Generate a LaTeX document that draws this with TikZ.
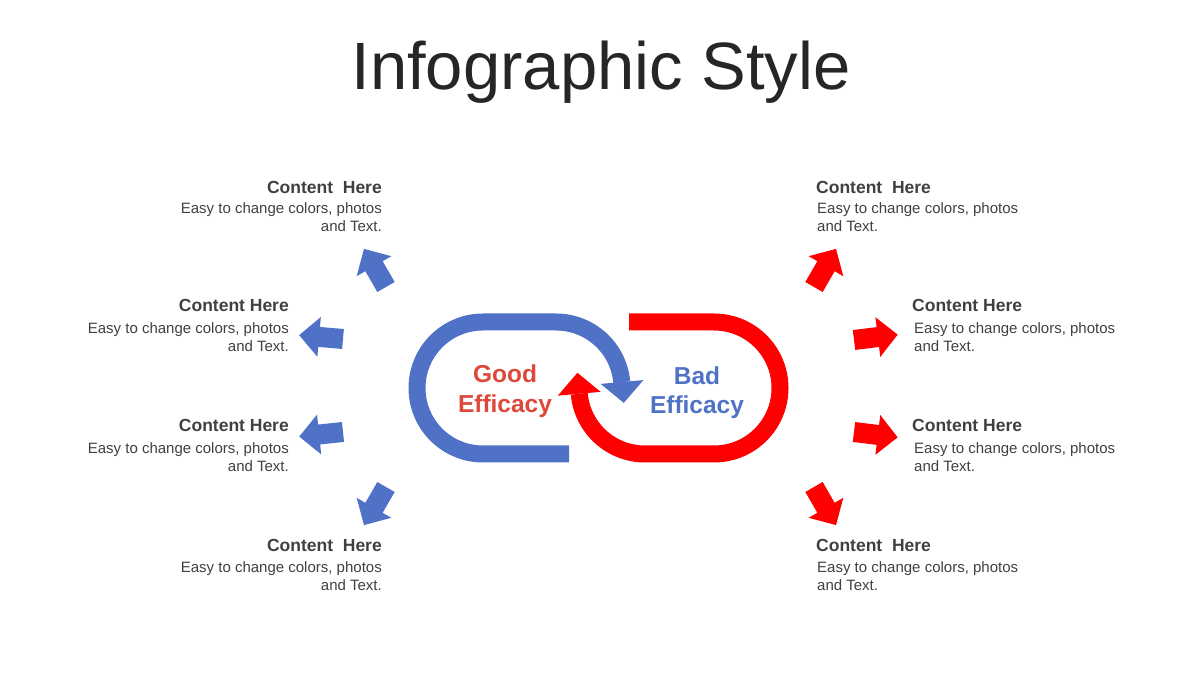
\documentclass[tikz,border=0pt]{standalone}
\usepackage{fontspec}
\setmainfont{Liberation Sans}
\definecolor{loopblue}{RGB}{79,114,198}
\definecolor{loopred}{RGB}{255,0,0}
\definecolor{goodtxt}{RGB}{221,72,58}
\definecolor{titlegray}{RGB}{38,38,38}
\definecolor{bodygray}{RGB}{64,64,64}
\tikzset{
  loopline/.style={line width=17pt, line cap=butt},
  headtxt/.style={inner sep=0pt, text=bodygray, font=\fontsize{17.5}{20}\selectfont\bfseries},
  bodytxt/.style={inner sep=0pt, text=bodygray, font=\fontsize{15}{18}\selectfont},
  centertxt/.style={inner sep=0pt, align=center, font=\fontsize{24.5}{29.5}\selectfont\bfseries},
  blockarrow/.pic={\fill (0,-10) -- (24,-10) -- (24,-20) -- (44,0) -- (24,20) -- (24,10) -- (0,10) -- cycle;}
}
\begin{document}
\begin{tikzpicture}[x=1pt,y=1pt]
\useasboundingbox (0,0) rectangle (1200,675);
% title
\node[inner sep=0pt, anchor=base, text=titlegray, font=\fontsize{67}{80}\selectfont] (title) at (601,585) {Infographic Style};

% blue loop
\draw[loopline, loopblue] (569,221) -- (483,221) arc[start angle=270, end angle=90, radius=66] -- (556,353) arc[start angle=90, end angle=5, radius=66];
\fill[loopblue] (600.6,291.1) -- (643.4,294.9) -- (623.8,272.1) -- cycle;
% red loop
\draw[loopline, loopred] (629,353) -- (714,353) arc[start angle=90, end angle=-90, radius=66] -- (645,221) arc[start angle=270, end angle=185, radius=66];
\fill[loopred] (600.65,283.15) -- (557.85,279.35) -- (577.4,302.2) -- cycle;

\node[centertxt, text=goodtxt] (good) at (505,284) {Good\\Efficacy};
\node[centertxt, text=loopblue] (bad) at (697,282.5) {Bad\\Efficacy};

% small arrows
\pic[loopblue, shift={(386,388)}, rotate=120] {blockarrow};
\pic[loopblue, shift={(343,336)}, rotate=175] {blockarrow};
\pic[loopblue, shift={(343,243)}, rotate=186] {blockarrow};
\pic[loopblue, shift={(386,188)}, rotate=240] {blockarrow};
\pic[loopred, shift={(814,388)}, rotate=60] {blockarrow};
\pic[loopred, shift={(854,335)}, rotate=7] {blockarrow};
\pic[loopred, shift={(854,243)}, rotate=-7] {blockarrow};
\pic[loopred, shift={(814,188)}, rotate=-60] {blockarrow};

% left texts
\node[headtxt, anchor=base east] (lh1) at (382,481) {Content\ \ Here};
\node[bodytxt, anchor=north east, align=right] (lb1) at (382,473) {Easy to change colors, photos\\and Text.};
\node[headtxt, anchor=base east] (lh2) at (289,363) {Content Here};
\node[bodytxt, anchor=north east, align=right] (lb2) at (289,353) {Easy to change colors, photos\\and Text.};
\node[headtxt, anchor=base east] (lh3) at (289,243) {Content Here};
\node[bodytxt, anchor=north east, align=right] (lb3) at (289,233) {Easy to change colors, photos\\and Text.};
\node[headtxt, anchor=base east] (lh4) at (382,123) {Content\ \ Here};
\node[bodytxt, anchor=north east, align=right] (lb4) at (382,114) {Easy to change colors, photos\\and Text.};
% right texts
\node[headtxt, anchor=base west] (rh1) at (816,481) {Content\ \ Here};
\node[bodytxt, anchor=north west, align=left] (rb1) at (817,473) {Easy to change colors, photos\\and Text.};
\node[headtxt, anchor=base west] (rh2) at (912,363) {Content Here};
\node[bodytxt, anchor=north west, align=left] (rb2) at (914,353) {Easy to change colors, photos\\and Text.};
\node[headtxt, anchor=base west] (rh3) at (912,243) {Content Here};
\node[bodytxt, anchor=north west, align=left] (rb3) at (914,233) {Easy to change colors, photos\\and Text.};
\node[headtxt, anchor=base west] (rh4) at (816,123) {Content\ \ Here};
\node[bodytxt, anchor=north west, align=left] (rb4) at (817,114) {Easy to change colors, photos\\and Text.};
\end{tikzpicture}
\end{document}
